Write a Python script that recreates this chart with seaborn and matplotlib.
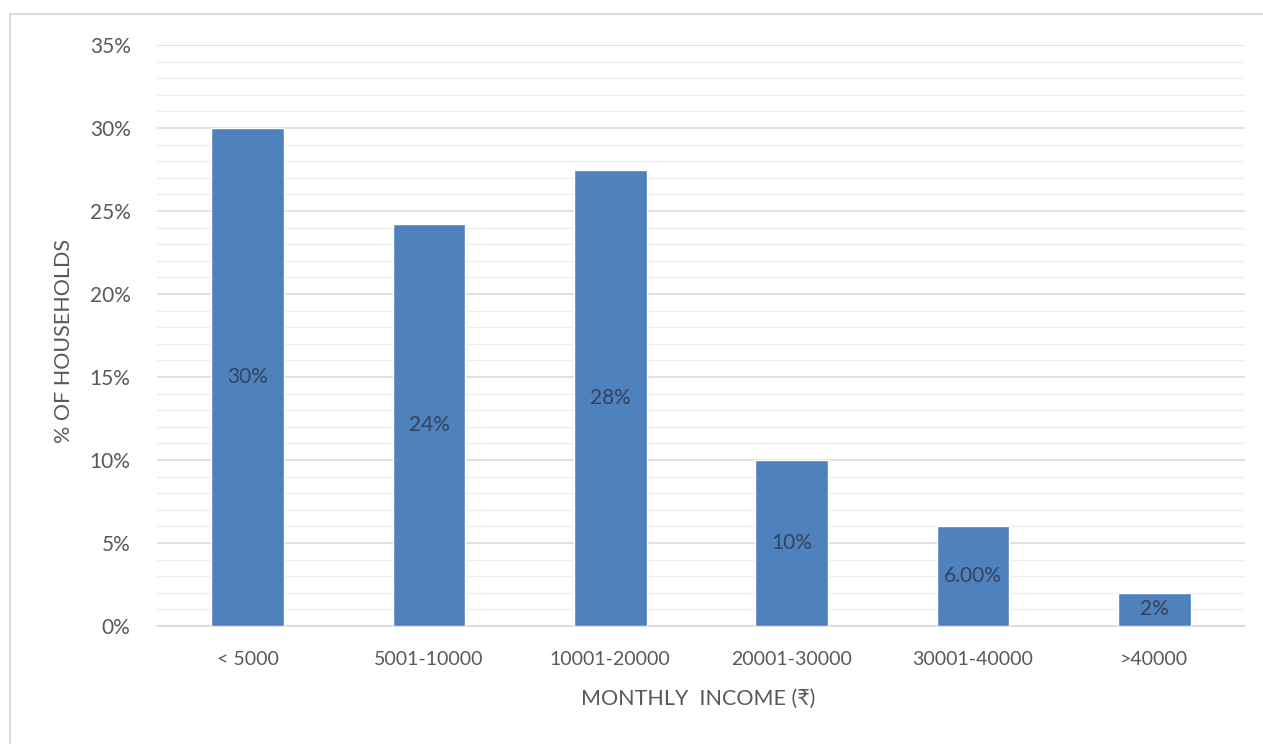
import matplotlib
matplotlib.use("Agg")
import matplotlib.pyplot as plt
from matplotlib.patches import Rectangle
from matplotlib.ticker import MultipleLocator, PercentFormatter
import pandas as pd
import seaborn as sns

# Share of households by monthly income band
income_bands = ["< 5000", "5001-10000", "10001-20000", "20001-30000", "30001-40000", ">40000"]
household_share = [0.30, 0.242, 0.275, 0.10, 0.06, 0.02]
label_formats = [".0%", ".0%", ".0%", ".0%", ".2%", ".0%"]

df = pd.DataFrame({"band": income_bands, "share": household_share})

sns.set_theme(style="white")
plt.rcParams["font.family"] = ["Lato", "DejaVu Sans"]

fig = plt.figure(figsize=(12.63, 7.44), dpi=100)
ax = fig.add_axes([0.1243, 0.1586, 0.8614, 0.7809])

# light outer frame around the chart area
fig.patches.append(Rectangle((10 / 1263, -0.05), 1.2, 1 - 14 / 744 + 0.05,
                             transform=fig.transFigure, fill=False,
                             edgecolor="#d9d9d9", linewidth=1.3, zorder=0))

sns.barplot(data=df, x="band", y="share", color="#4f81bd", width=0.4,
            saturation=1, ax=ax, zorder=3)

ax.set_xlim(-0.5, len(income_bands) - 0.5)
ax.set_ylim(0, 0.35)
ax.yaxis.set_major_locator(MultipleLocator(0.05))
ax.yaxis.set_minor_locator(MultipleLocator(0.01))
ax.yaxis.set_major_formatter(PercentFormatter(1.0, decimals=0))
ax.grid(which="major", axis="y", color="#d9d9d9", linewidth=1.1, zorder=0)
ax.grid(which="minor", axis="y", color="#eeeeee", linewidth=1.0, zorder=0)
ax.set_axisbelow(True)

for side in ["top", "right", "left"]:
    ax.spines[side].set_visible(False)
ax.spines["bottom"].set_color("#d9d9d9")
ax.spines["bottom"].set_linewidth(1.2)
ax.tick_params(axis="both", which="both", length=0, labelcolor="#595959")
ax.tick_params(axis="x", labelsize=14, pad=18)
ax.tick_params(axis="y", labelsize=15, pad=19)

for bar, val, fmt in zip(ax.patches, household_share, label_formats):
    ax.text(bar.get_x() + bar.get_width() / 2, val / 2, format(val, fmt),
            ha="center", va="center", fontsize=15, color="#34435c", zorder=4)

ax.set_xlabel("MONTHLY  INCOME (\u20b9)", fontsize=15.5, color="#595959")
ax.set_ylabel("% OF HOUSEHOLDS", fontsize=15.5, color="#595959")
ax.xaxis.set_label_coords(0.497, -0.108)
ax.yaxis.set_label_coords(-0.076, 0.49)

fig.savefig("out.png", dpi=100, facecolor="white")
